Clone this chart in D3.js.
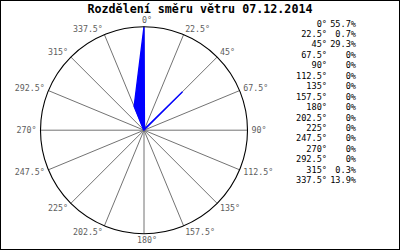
<!DOCTYPE html>
<html><head><meta charset="utf-8">
<script src="https://cdn.jsdelivr.net/npm/d3@7"></script>
<style>html,body{margin:0;padding:0;background:#fff;}svg{display:block;}</style>
</head><body>
<script>
const title = "Rozdělení směru větru 07.12.2014";
const directions = [0, 22.5, 45, 67.5, 90, 112.5, 135, 157.5, 180, 202.5, 225, 247.5, 270, 292.5, 315, 337.5];
const shares = [55.7, 0.7, 29.3, 0, 0, 0, 0, 0, 0, 0, 0, 0, 0, 0, 0.3, 13.9];
const shareLabels = ["55.7%", "0.7%", "29.3%", "0%", "0%", "0%", "0%", "0%", "0%", "0%", "0%", "0%", "0%", "0%", "0.3%", "13.9%"];

const W = 400, H = 250;
const cx = 144, cy = 130.2, R = 103.5;
const mono = "'DejaVu Sans Mono', 'Liberation Mono', monospace";

const svg = d3.select("body").append("svg").attr("width", W).attr("height", H);
svg.append("rect").attr("x", 0.5).attr("y", 0.5).attr("width", W - 1).attr("height", H - 1)
  .attr("fill", "#fff").attr("stroke", "#000");

svg.append("text").attr("x", 200).attr("y", 12.5).attr("text-anchor", "middle")
  .attr("font-family", mono).attr("font-weight", "bold").attr("font-size", 11.5)
  .attr("textLength", 225).attr("lengthAdjust", "spacingAndGlyphs")
  .text(title);

const rScale = d3.scaleLinear().domain([0, d3.max(shares)]).range([0, R]);
const toRad = d => d * Math.PI / 180;
const g = svg.append("g").attr("transform", `translate(${cx},${cy})`);

// spokes
g.selectAll("line.spoke").data(directions).join("line").attr("class", "spoke")
  .attr("x1", 0).attr("y1", 0)
  .attr("x2", d => R * Math.sin(toRad(d))).attr("y2", d => -R * Math.cos(toRad(d)))
  .attr("stroke", "#737373").attr("stroke-width", 1);

// polygon
const line = d3.lineRadial().angle((d, i) => toRad(directions[i])).radius(d => rScale(d)).curve(d3.curveLinearClosed);
g.append("path").attr("d", line(shares)).attr("fill", "#0000ff").attr("stroke", "#0000ff").attr("stroke-width", 1.3)
  .attr("stroke-linejoin", "miter");

// circle
g.append("circle").attr("r", R).attr("fill", "none").attr("stroke", "#000").attr("stroke-width", 1.1);

// labels
g.selectAll("text.lab").data(directions).join("text").attr("class", "lab")
  .attr("x", d => {
    const s = Math.sin(toRad(d));
    return (R + 1) * s + (Math.abs(s) < 0.01 ? 3 : 3 * s);
  })
  .attr("y", d => {
    const c = Math.cos(toRad(d));
    return -(R + 1) * c + 3 - 5.5 * c;
  })
  .attr("text-anchor", d => {
    const s = Math.sin(toRad(d));
    return Math.abs(s) < 0.01 ? "middle" : (s > 0 ? "start" : "end");
  })
  .attr("font-family", mono).attr("font-size", 8.3).attr("fill", "#5e5e5e")
  .text(d => d + "°");

// legend
const leg = svg.append("g");
const rowY = i => 26.5 + i * 10.45;
leg.selectAll("text.ang").data(directions).join("text").attr("class", "ang")
  .attr("x", 327).attr("y", (d, i) => rowY(i)).attr("text-anchor", "end")
  .attr("font-family", mono).attr("font-size", 8.6).attr("fill", "#000")
  .text(d => d + "°");
leg.selectAll("text.pct").data(shareLabels).join("text").attr("class", "pct")
  .attr("x", 356).attr("y", (d, i) => rowY(i)).attr("text-anchor", "end")
  .attr("font-family", mono).attr("font-size", 8.6).attr("fill", "#000")
  .text(d => d);
</script>
</body></html>
